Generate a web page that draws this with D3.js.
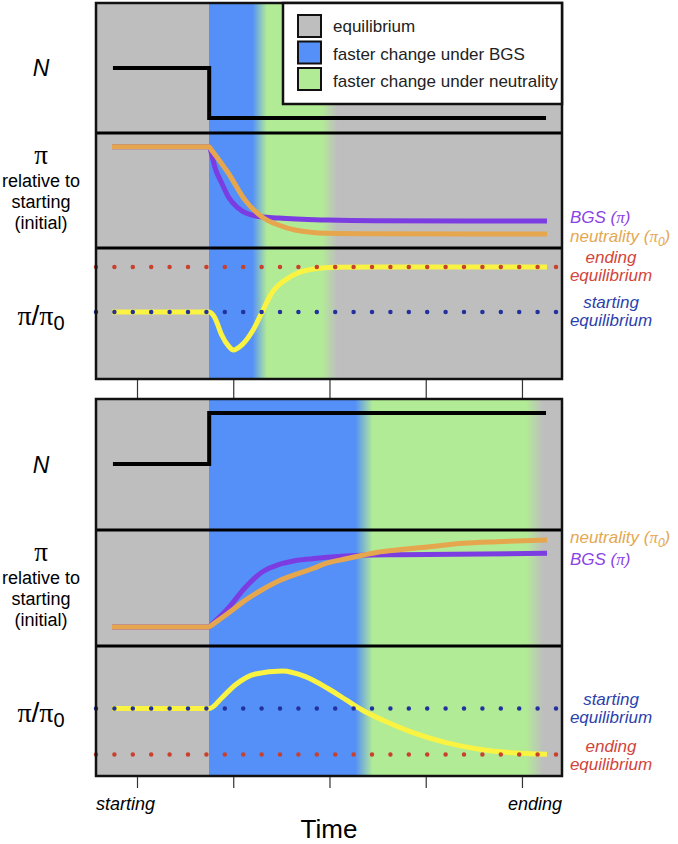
<!DOCTYPE html>
<html>
<head>
<meta charset="utf-8">
<script src="https://cdn.jsdelivr.net/npm/d3@7"></script>
<style>
  body { margin: 0; background: #fff; }
  svg { display: block; font-family: "Liberation Sans", Arial, sans-serif; }
</style>
</head>
<body>
<div id="chart"></div>
<script>
// Time axis: tick positions and the two end labels
const timeTicks = [0, 1, 2, 3, 4];
const endLabels = ["starting", "ending"];

// Background phases: [change starts, blue ends, green starts, green ends, gray starts]
const phasesDecline = [0.75, 1.2, 1.35, 1.92, 2.08];
const phasesGrowth = [0.75, 2.27, 2.45, 4.04, 4.22];

const legendLabels = ["equilibrium", "faster change under BGS", "faster change under neutrality"];

// Population size N (step)
const nTime = [-0.25, 0.75, 0.75, 4.25];
const nDecline = [0.5, 0.5, 0.115, 0.115];
const nGrowth = [0.504, 0.504, 0.893, 0.893];

// Decline panel: pi relative to starting
const neutTimeD = [-0.26, 0.75, 0.76, 0.95, 1.12, 1.30, 1.47, 1.64, 1.98, 2.47, 4.26];
const neutDecline = [0.88, 0.88, 0.869, 0.65, 0.42, 0.27, 0.20, 0.157, 0.128, 0.124, 0.122];
const bgsTimeD = [-0.26, 0.75, 0.78, 0.81, 0.88, 0.95, 1.05, 1.23, 1.47, 1.98, 2.47, 4.26];
const bgsDecline = [0.88, 0.88, 0.80, 0.70, 0.565, 0.443, 0.348, 0.278, 0.26, 0.243, 0.237, 0.235];
// Decline panel: pi / pi0
const ratioTimeD = [-0.26, 0.75, 0.81, 0.88, 0.95, 1.00, 1.09, 1.20, 1.30, 1.40, 1.54, 1.67, 1.85, 2.06, 2.73, 4.26];
const ratioDecline = [0.511, 0.511, 0.466, 0.336, 0.252, 0.221, 0.26, 0.366, 0.511, 0.656, 0.756, 0.809, 0.842, 0.853, 0.855, 0.855];
const eqDecline = { starting: 0.511, ending: 0.855 };

// Growth panel: pi relative to starting
const neutTimeG = [-0.26, 0.75, 0.76, 0.95, 1.12, 1.30, 1.47, 1.64, 1.82, 1.98, 2.16, 2.34, 2.50, 2.70, 3.04, 3.39, 3.74, 4.26];
const neutGrowth = [0.164, 0.164, 0.170, 0.284, 0.391, 0.485, 0.560, 0.615, 0.666, 0.716, 0.750, 0.782, 0.808, 0.828, 0.856, 0.885, 0.899, 0.914];
const bgsTimeG = [-0.26, 0.75, 0.76, 0.95, 1.12, 1.30, 1.47, 1.64, 1.82, 1.98, 2.34, 2.73, 4.26];
const bgsGrowth = [0.164, 0.164, 0.172, 0.328, 0.500, 0.638, 0.701, 0.735, 0.753, 0.765, 0.782, 0.787, 0.799];
// Growth panel: pi / pi0
const ratioTimeG = [-0.26, 0.75, 0.88, 1.02, 1.23, 1.51, 1.75, 1.98, 2.19, 2.34, 2.55, 2.86, 3.20, 3.54, 3.90, 4.26];
const ratioGrowth = [0.519, 0.519, 0.600, 0.700, 0.785, 0.808, 0.764, 0.675, 0.577, 0.508, 0.431, 0.336, 0.259, 0.208, 0.179, 0.167];
const eqGrowth = { starting: 0.519, ending: 0.165 };

(function () {
  const W = 678, H = 844;
  const C = {
    gray: "#bebebe", blue: "#5590f8", green: "#b2eb96",
    purple: "#7b3ce2", orange: "#e6a64d", yellow: "#faf342",
    red: "#c9412d", navy: "#22319e",
    purpleTxt: "#8a44e6", orangeTxt: "#e4a852", redTxt: "#d2443a", blueTxt: "#2b3fae"
  };

  const svg = d3.select("#chart").append("svg").attr("width", W).attr("height", H);
  const defs = svg.append("defs");

  const x = d3.scaleLinear().domain([-0.426, 4.416]).range([96, 562]);
  const zip = (ts, vs) => ts.map((t, i) => [t, vs[i]]);

  const panels = [
    {
      id: "decline", top: 3, rows: [3, 133, 248, 379], phases: phasesDecline, tick: 20,
      n: nDecline, neut: zip(neutTimeD, neutDecline), bgs: zip(bgsTimeD, bgsDecline),
      ratio: zip(ratioTimeD, ratioDecline), eq: eqDecline,
      piLabels: [["BGS", C.purpleTxt, 223, "π", false], ["neutrality", C.orangeTxt, 242, "π", true]],
      eqLabels: [["ending", C.redTxt, 263], ["starting", C.blueTxt, 308]]
    },
    {
      id: "growth", top: 399, rows: [399, 530, 646, 776], phases: phasesGrowth, tick: 11,
      n: nGrowth, neut: zip(neutTimeG, neutGrowth), bgs: zip(bgsTimeG, bgsGrowth),
      ratio: zip(ratioTimeG, ratioGrowth), eq: eqGrowth,
      piLabels: [["neutrality", C.orangeTxt, 543, "π", true], ["BGS", C.purpleTxt, 565, "π", false]],
      eqLabels: [["starting", C.blueTxt, 705], ["ending", C.redTxt, 752]]
    }
  ];

  panels.forEach(p => {
    const [r0, r1, r2, r3] = p.rows;
    const yN = d3.scaleLinear().domain([0, 1]).range([r1, r0]);
    const yPi = d3.scaleLinear().domain([0, 1]).range([r2, r1]);
    const yR = d3.scaleLinear().domain([0, 1]).range([r3, r2]);
    const [a, b, c, d, e] = p.phases;
    const x0 = x.range()[0], x1 = x.range()[1];
    const off = t => (x(t) - x0) / (x1 - x0);

    // background gradient: gray -> blue -> green -> gray
    const g = defs.append("linearGradient").attr("id", "bg-" + p.id)
      .attr("gradientUnits", "userSpaceOnUse")
      .attr("x1", x0).attr("x2", x1).attr("y1", 0).attr("y2", 0);
    [[0, C.gray], [off(a), C.gray], [off(a), C.blue], [off(b), C.blue],
     [off(c), C.green], [off(d), C.green], [off(e), C.gray], [1, C.gray]]
      .forEach(([o, col]) => g.append("stop").attr("offset", o).attr("stop-color", col));

    svg.append("rect").attr("x", x0).attr("y", r0).attr("width", x1 - x0).attr("height", r3 - r0)
      .attr("fill", `url(#bg-${p.id})`);

    // N step line
    svg.append("path")
      .datum(zip(nTime, p.n))
      .attr("d", d3.line().x(q => x(q[0])).y(q => yN(q[1])))
      .attr("fill", "none").attr("stroke", "#000").attr("stroke-width", 4)
      .attr("stroke-linejoin", "miter");

    const curve = d3.line().x(q => x(q[0])).curve(d3.curveMonotoneX);

    svg.append("path").datum(p.bgs)
      .attr("d", curve.y(q => yPi(q[1])))
      .attr("fill", "none").attr("stroke", C.purple).attr("stroke-width", 5);
    svg.append("path").datum(p.neut)
      .attr("d", curve.y(q => yPi(q[1])))
      .attr("fill", "none").attr("stroke", C.orange).attr("stroke-width", 5);

    svg.append("path").datum(p.ratio)
      .attr("d", curve.y(q => yR(q[1])))
      .attr("fill", "none").attr("stroke", C.yellow).attr("stroke-width", 5);

    // equilibrium reference lines (dotted)
    [["ending", C.red], ["starting", C.navy]].forEach(([k, col]) => {
      svg.append("line")
        .attr("x1", x0).attr("x2", x1)
        .attr("y1", yR(p.eq[k])).attr("y2", yR(p.eq[k]))
        .attr("stroke", col).attr("stroke-width", 4.5)
        .attr("stroke-linecap", "round").attr("stroke-dasharray", "0 18.4");
    });

    // row dividers and frame
    [r1, r2].forEach(yy => {
      svg.append("line").attr("x1", x0).attr("x2", x1).attr("y1", yy).attr("y2", yy)
        .attr("stroke", "#000").attr("stroke-width", 3);
    });
    svg.append("rect").attr("x", x0).attr("y", r0).attr("width", x1 - x0).attr("height", r3 - r0)
      .attr("fill", "none").attr("stroke", "#111").attr("stroke-width", 2.5);

    // ticks below panel
    const ax = svg.append("g").attr("transform", `translate(0,${r3 + 1})`)
      .call(d3.axisBottom(x).tickValues(timeTicks).tickFormat("").tickSize(p.tick));
    ax.select(".domain").remove();
    ax.selectAll("line").attr("stroke", "#333").attr("stroke-width", 1.2);

    // left row labels
    const lx = 41;
    svg.append("text").attr("x", lx).attr("y", (r0 + r1) / 2 + 8)
      .attr("text-anchor", "middle").attr("font-size", 23).attr("font-style", "italic").text("N");
    const piMid = (r1 + r2) / 2;
    svg.append("text").attr("x", lx).attr("y", piMid - 27)
      .attr("text-anchor", "middle").attr("font-size", 27)
      .attr("font-family", "'Liberation Serif', 'DejaVu Serif', serif").text("π");
    ["relative to", "starting", "(initial)"].forEach((s, i) => {
      svg.append("text").attr("x", lx).attr("y", piMid - 4 + i * 21)
        .attr("text-anchor", "middle").attr("font-size", 18).text(s);
    });
    const rl = svg.append("text").attr("x", lx).attr("y", yR(p.eq.starting) + 13)
      .attr("text-anchor", "middle").attr("font-size", 28);
    rl.append("tspan").attr("font-family", "'Liberation Serif', serif").text("π");
    rl.append("tspan").text("/");
    rl.append("tspan").attr("font-family", "'Liberation Serif', serif").text("π");
    rl.append("tspan").attr("font-size", 20).attr("dy", 5).text("0");

    // right labels for pi curves
    p.piLabels.forEach(([name, col, yy, sym, sub]) => {
      const t = svg.append("text").attr("x", 570).attr("y", yy)
        .attr("font-size", 17).attr("font-style", "italic").attr("fill", col);
      t.append("tspan").text(name + " (");
      t.append("tspan").attr("font-family", "'Liberation Serif', serif").text(sym);
      if (sub) {
        t.append("tspan").attr("font-size", 12).attr("dy", 4).text("0");
        t.append("tspan").attr("dy", -4).text(")");
      } else {
        t.append("tspan").text(")");
      }
    });

    // right labels for equilibrium lines
    p.eqLabels.forEach(([name, col, yy]) => {
      [name, "equilibrium"].forEach((s, i) => {
        svg.append("text").attr("x", 611).attr("y", yy + i * 18)
          .attr("text-anchor", "middle").attr("font-size", 17).attr("font-style", "italic")
          .attr("fill", col).text(s);
      });
    });
  });

  // legend in top panel
  const leg = svg.append("g");
  leg.append("rect").attr("x", 283).attr("y", 3).attr("width", 279).attr("height", 101)
    .attr("fill", "#fff").attr("stroke", "#111").attr("stroke-width", 2.5);
  [C.gray, C.blue, C.green].forEach((col, i) => {
    leg.append("rect").attr("x", 298).attr("y", 15 + i * 26.5).attr("width", 23).attr("height", 22)
      .attr("fill", col).attr("stroke", "#111").attr("stroke-width", 2);
    leg.append("text").attr("x", 333).attr("y", 32 + i * 27.5)
      .attr("font-size", 17).attr("fill", "#222").text(legendLabels[i]);
  });

  // time axis labels
  const yb = 810;
  svg.append("text").attr("x", x.range()[0]).attr("y", yb).attr("font-size", 18)
    .attr("font-style", "italic").text(endLabels[0]);
  svg.append("text").attr("x", x.range()[1]).attr("y", yb).attr("font-size", 18)
    .attr("font-style", "italic").attr("text-anchor", "end").text(endLabels[1]);
  svg.append("text").attr("x", (x.range()[0] + x.range()[1]) / 2).attr("y", 838)
    .attr("text-anchor", "middle").attr("font-size", 26).text("Time");
})();
</script>
</body>
</html>
